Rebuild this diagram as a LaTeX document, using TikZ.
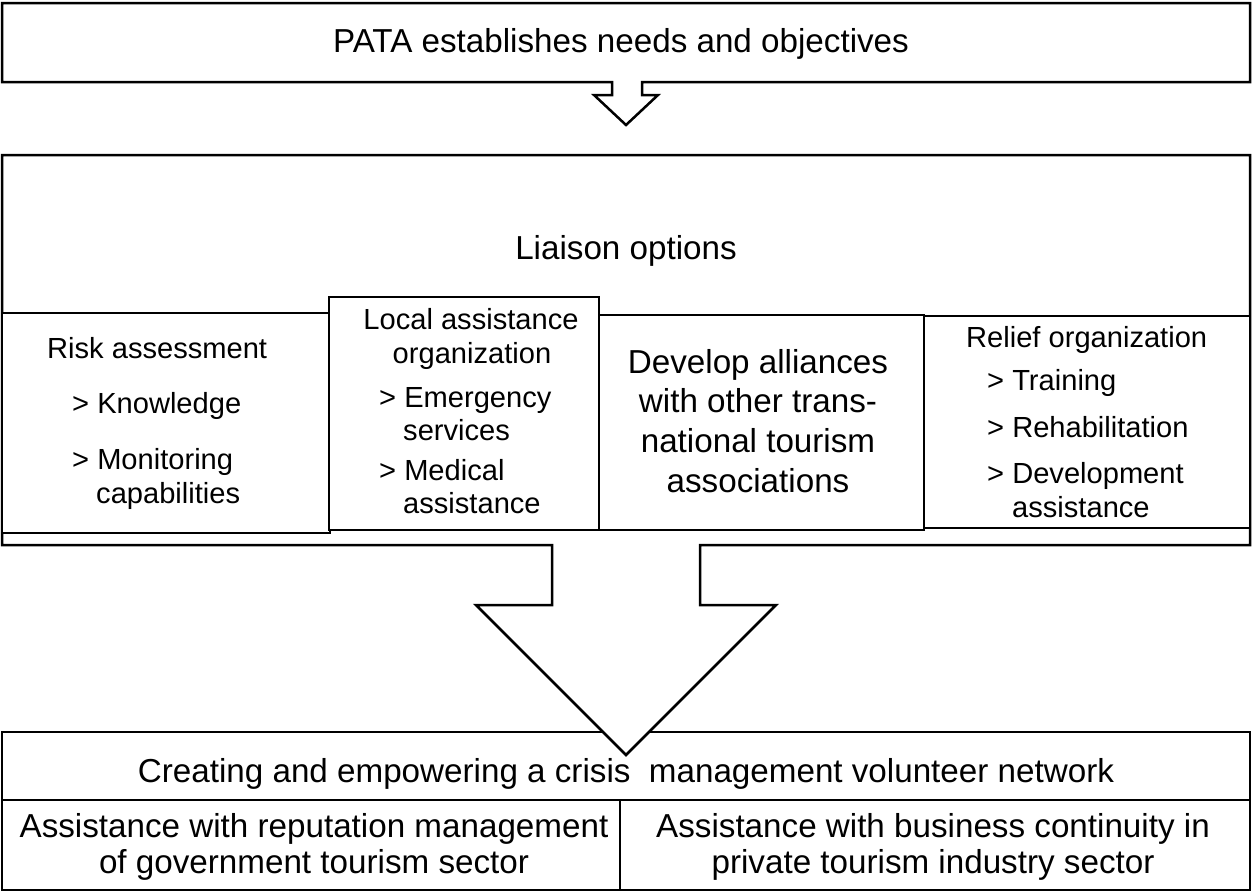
\documentclass[tikz,border=0pt]{standalone}
\usepackage{fontspec}
\setmainfont{Liberation Sans}
\begin{document}
\begin{tikzpicture}[x=1pt,y=-1pt,
  outline/.style={draw=black,line width=2.5pt,line join=miter},
  boxnode/.style={draw=black,line width=2.5pt,fill=white,inner sep=0pt,outer sep=0pt,anchor=north west},
  big/.style={font=\fontsize{33.2}{40}\selectfont,inner sep=0pt},
  mid/.style={font=\fontsize{33.2}{40}\selectfont,inner sep=0pt},
  small/.style={font=\fontsize{29.1}{35}\selectfont,inner sep=0pt}]
\useasboundingbox (0,0) rectangle (1254,892);
% bottom box
\node[boxnode,minimum width=1248pt,minimum height=158pt] (bottom) at (2,732) {};
\draw[outline] (2,800) -- (1250,800);
\draw[outline] (620,800) -- (620,890);
% top box with small arrow
\draw[outline,fill=white] (612,82) -- (2,82) -- (2,3) -- (1250,3) -- (1250,82) -- (642,82)
  -- (642,95) -- (658,95) -- (626,125) -- (594,95) -- (612,95) -- cycle;
% liaison box with big arrow
\draw[outline,fill=white] (552,545) -- (2,545) -- (2,155) -- (1250,155) -- (1250,545) -- (700,545)
  -- (700,605) -- (776,605) -- (626,755) -- (476,605) -- (552,605) -- cycle;
% inner boxes
\node[boxnode,minimum width=328pt,minimum height=220pt] (risk) at (2,313) {};
\node[boxnode,minimum width=325pt,minimum height=215pt] (alliance) at (599,315) {};
\node[boxnode,minimum width=326pt,minimum height=212pt] (relief) at (924,316) {};
\node[boxnode,minimum width=270pt,minimum height=233pt] (local) at (329,297) {};
% texts
\node[big,anchor=base] (pata) at (621,52) {PATA establishes needs and objectives};
\node[big,anchor=base] (liaison) at (626,259) {Liaison options};
\node[small,anchor=base west] (r1) at (47,358) {Risk assessment};
\node[small,anchor=base west] (r2) at (72,413) {> Knowledge};
\node[small,anchor=base west] (r3) at (72,469) {> Monitoring};
\node[small,anchor=base west] (r4) at (96,503) {capabilities};
\node[small,anchor=base] (l1) at (471,329) {Local assistance};
\node[small,anchor=base] (l2) at (472,363) {organization};
\node[small,anchor=base west] (l3) at (379,407) {> Emergency};
\node[small,anchor=base west] (l4) at (403,440) {services};
\node[small,anchor=base west] (l5) at (379,480) {> Medical};
\node[small,anchor=base west] (l6) at (403,513) {assistance};
\node[mid,anchor=base] (a1) at (758,373) {Develop alliances};
\node[mid,anchor=base] (a2) at (758,412) {with other trans-};
\node[mid,anchor=base] (a3) at (758,452) {national tourism};
\node[mid,anchor=base] (a4) at (758,492) {associations};
\node[small,anchor=base west] (e1) at (966,347) {Relief organization};
\node[small,anchor=base west] (e2) at (987,390) {> Training};
\node[small,anchor=base west] (e3) at (987,437) {> Rehabilitation};
\node[small,anchor=base west] (e4) at (987,483) {> Development};
\node[small,anchor=base west] (e5) at (1012,517) {assistance};
\node[big,anchor=base] (b1) at (626,782) {Creating and empowering a crisis\ \ management volunteer network};
\node[mid,anchor=base] (b2) at (314,837) {Assistance with reputation management};
\node[mid,anchor=base] (b3) at (314,873) {of government tourism sector};
\node[mid,anchor=base] (b4) at (933,837) {Assistance with business continuity in};
\node[mid,anchor=base] (b5) at (933,873) {private tourism industry sector};
\end{tikzpicture}
\end{document}
